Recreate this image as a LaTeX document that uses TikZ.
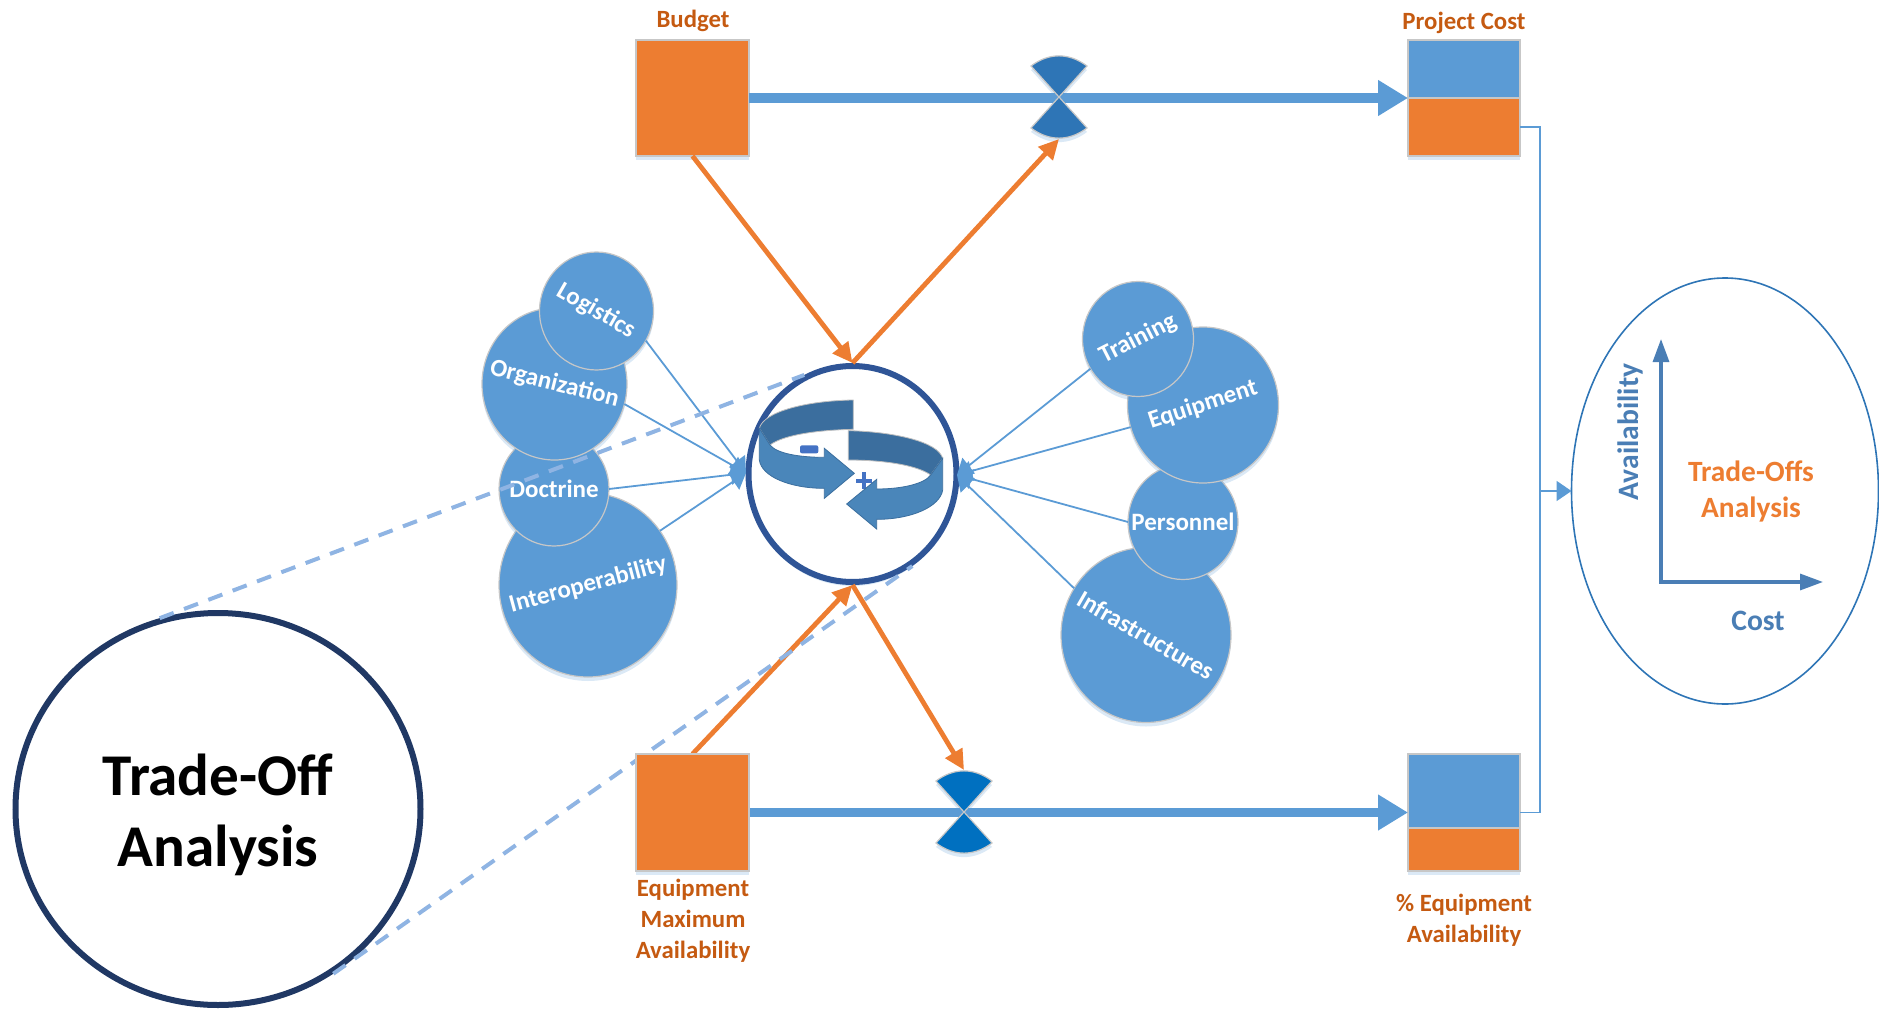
\documentclass[tikz,border=0pt]{standalone}
\usepackage{fontspec}
\setmainfont{Carlito}
\usetikzlibrary{arrows.meta,shapes.geometric,shadows}
\pgfdeclarelayer{front}
\pgfsetlayers{main,front}
\definecolor{bubbleblue}{HTML}{5B9BD5}
\definecolor{stockorange}{HTML}{ED7D31}
\definecolor{labelorange}{HTML}{C55A11}
\definecolor{ringblue}{HTML}{2F5597}
\definecolor{ringnavy}{HTML}{203864}
\definecolor{dashblue}{HTML}{8FB4E3}
\definecolor{outlineblue}{HTML}{2E75B6}
\definecolor{axisblue}{HTML}{4A7EB5}
\definecolor{valveblue}{HTML}{0070C0}
\definecolor{ribbonback}{HTML}{3B6E9E}
\definecolor{ribbonfront}{HTML}{4A86BA}
\definecolor{signblue}{HTML}{4472C4}
\tikzset{
  size/.style 2 args={minimum width=#1*.5pt,minimum height=#2*.5pt},
  softshadow/.style={drop shadow={shadow xshift=0pt,shadow yshift=-2pt,
    opacity=.22,fill=bubbleblue}},
  bubble/.style={ellipse,fill=bubbleblue,draw=black!22,line width=.6pt,
    inner sep=0pt,outer sep=0pt,softshadow},
  bubbletext/.style={text=white,inner sep=0pt,font=\fontsize{12.5}{14}\selectfont\bfseries},
  stockbox/.style={rectangle,draw=black!22,line width=.7pt,inner sep=0pt,
    outer sep=0pt,softshadow},
  stocklabel/.style={text=labelorange,align=center,inner sep=0pt,
    font=\fontsize{12.4}{15.5}\selectfont\bfseries},
  flow/.style={bubbleblue,line width=4.7pt,-{Triangle[length=15pt,width=17pt]}},
  push/.style={stockorange,line width=2.4pt,-{Triangle[length=10pt,width=9.5pt]}},
  link/.style={bubbleblue,line width=.9pt,-{Triangle[length=7.5pt,width=10pt]}},
  zoomline/.style={dashblue,line width=2pt,dash pattern=on 7.5pt off 5.5pt},
  axis/.style={axisblue,line width=1.6pt},
  pics/valve/.style={code={
    \filldraw[fill=#1,draw=black!22,line width=.6pt,softshadow]
      (0,0) -- (-28,-31) .. controls (-10,-44.5) and (10,-44.5) .. (28,-31) -- cycle;
    \filldraw[fill=#1,draw=black!22,line width=.6pt,softshadow]
      (0,0) -- (-28,31) .. controls (-10,44.5) and (10,44.5) .. (28,31) -- cycle;
    \coordinate (-high) at (0,-42);
    \coordinate (-low) at (0,42);
  }}
}
\begin{document}
\begin{tikzpicture}[x=.5pt,y=-.5pt]
  \useasboundingbox (0,0) rectangle (1879,1011);

  \node[stockbox,fill=stockorange,size={113}{116}] (budget) at (692.5,98) {};
  \node[stocklabel] (budgetlabel) at (693,21) {Budget};
  \node[stockbox,fill=bubbleblue,size={112}{58}] (costtop) at (1464,69) {};
  \node[stockbox,fill=stockorange,size={112}{58}] (costbottom) at (1464,127) {};
  \node[stocklabel] (costlabel) at (1464,23) {Project Cost};
  \begin{pgfonlayer}{front}
    \node[stockbox,fill=stockorange,size={113}{117}] (maximum) at (692.5,812.5) {};
  \end{pgfonlayer}
  \node[stocklabel] (maximumlabel) at (693,921) {Equipment\\Maximum\\Availability};
  \node[stockbox,fill=bubbleblue,size={112}{74}] (availtop) at (1464,791) {};
  \node[stockbox,fill=stockorange,size={112}{43}] (availbottom) at (1464,849.5) {};
  \node[stocklabel] (availlabel) at (1464,920) {\% Equipment\\Availability};

  \draw[flow] (budget.east) -- (budget.east -| costtop.west);
  \draw[flow] (maximum.east) -- (maximum.east -| availtop.west);
  \pic (valvetop) at (1059,97) {valve=outlineblue};
  \pic (valvelow) at (964,812) {valve=valveblue};

  \node[bubble,size={178}{184},label={[bubbletext,rotate=15]center:Interoperability}] (interop) at (588,585) {};
  \node[bubble,size={110}{114},label={[bubbletext]center:Doctrine}] (doctrine) at (554,489) {};
  \node[bubble,size={145}{152},label={[bubbletext,rotate=-14]center:Organization}] (organization) at (554.5,384) {};
  \node[bubble,size={114}{118},label={[bubbletext,rotate=-30]center:Logistics}] (logistics) at (596.5,311) {};
  \node[bubble,size={170}{175},label={[bubbletext,rotate=-30]center:Infrastructures}] (infrastructures) at (1146,635) {};
  \node[bubble,size={110}{115},label={[bubbletext]center:Personnel}] (personnel) at (1183,522) {};
  \node[bubble,size={151}{156},label={[bubbletext,rotate=18]center:Equipment}] (equipment) at (1203,405) {};
  \node[bubble,size={111}{115},label={[bubbletext,rotate=27]center:Training}] (training) at (1138,339) {};

  \node[ellipse,draw=ringblue,fill=white,line width=3pt,size={208}{216},inner sep=0pt,
    outer sep=1.5pt,softshadow] (ring) at (852.5,474) {};
  \node[ellipse,draw=ringnavy,fill=white,line width=3pt,size={405}{392},inner sep=0pt,outer sep=1.5pt,
    label={[align=center,inner sep=0pt,yshift=-3pt,font=\fontsize{29.6}{35.5}\selectfont\bfseries]center:Trade-Off\\Analysis}] (tradeoff) at (218,809) {};
  \node[ellipse,draw=outlineblue,line width=.8pt,size={307}{426},inner sep=0pt,outer sep=0pt] (chart) at (1725,491) {};

  \begin{scope}[shift={(720,340)},x=.16667pt,y=-.16667pt]
    \filldraw[fill=ribbonback,draw=black!25,line width=.4pt] (400,180) .. controls (260,182) and (130,215) .. (118,265)
      -- (150,315) .. controls (190,285) and (290,270) .. (400,268) -- cycle;
    \filldraw[fill=ribbonfront,draw=ribbonback,line width=.4pt] (118,265) -- (118,360)
      .. controls (125,410) and (210,445) .. (313,445) -- (313,475) -- (403,400) -- (313,325) -- (313,352)
      .. controls (235,352) and (170,340) .. (150,315) -- cycle;
    \fill[signblue,rounded corners=1pt] (240,316) rectangle (295,340);
    \fill[signblue] (408,416) rectangle (456,428);
    \fill[signblue] (426,397) rectangle (438,447);
    \filldraw[fill=ribbonback,draw=black!25,line width=.4pt] (385,272) .. controls (520,275) and (655,305) .. (668,355)
      -- (632,405) .. controls (590,375) and (490,360) .. (385,360) -- cycle;
    \filldraw[fill=ribbonfront,draw=ribbonback,line width=.4pt] (668,355) -- (668,450)
      .. controls (660,500) and (575,538) .. (470,538) -- (470,567) -- (380,492) -- (470,418) -- (470,447)
      .. controls (550,447) and (615,430) .. (632,405) -- cycle;
  \end{scope}

  \coordinate (hubleft) at (746,473);
  \coordinate (hubright) at (957,475);
  \foreach \from/\angle in {logistics/-31,organization/-16,doctrine/0,interop/37}{
    \draw[link] (\from.\angle) -- (hubleft);
  }
  \foreach \from/\angle in {training/-148,equipment/-163,personnel/180,infrastructures/147}{
    \draw[link] (\from.\angle) -- (hubright);
  }

  \draw[push] (budget.south) -- (ring.north);
  \draw[push] (ring.north) -- (valvetop-low);
  \draw[push] (maximum.north) -- (ring.south);
  \draw[push] (ring.south) -- (valvelow-high);

  \draw[zoomline] (tradeoff.107) -- (ring.116);
  \draw[zoomline] (tradeoff.-55) -- (ring.-57);

  \coordinate (bus) at (1540,491);
  \draw[bubbleblue,line width=.9pt] (costbottom.east) -| (bus) |- (maximum.east -| availtop.east);
  \draw[link] (bus) -- (chart.west);

  \coordinate (axisorigin) at (1661,582);
  \coordinate (axistop) at (1661,339);
  \coordinate (axisend) at (1823,582);
  \draw[axis,{Triangle[length=11.5pt,width=8pt]}-{Triangle[length=11.5pt,width=8pt]}] (axistop) -- (axisorigin) -- (axisend);
  \node[text=axisblue,rotate=90,inner sep=0pt,font=\fontsize{14.8}{16}\selectfont\bfseries] (availaxis) at (1630,432) {Availability};
  \node[text=axisblue,inner sep=0pt,font=\fontsize{14.8}{16}\selectfont\bfseries] (costaxis) at (1758,621) {Cost};
  \node[text=stockorange,align=center,inner sep=0pt,font=\fontsize{14.7}{18}\selectfont\bfseries] (chartlabel) at (1751,491.5) {Trade-Offs\\Analysis};
\end{tikzpicture}
\end{document}
